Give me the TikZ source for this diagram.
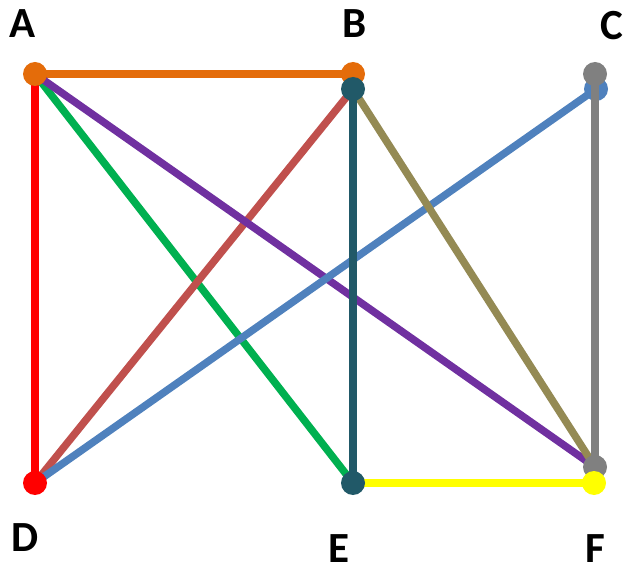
\documentclass[tikz,border=0pt]{standalone}
\usepackage{fontspec}
\setmainfont{Carlito}
\definecolor{cOrange}{HTML}{E46C0A}
\definecolor{cRed}{HTML}{FF0000}
\definecolor{cGreen}{HTML}{00B050}
\definecolor{cPurple}{HTML}{7030A0}
\definecolor{cBrick}{HTML}{C0504D}
\definecolor{cTeal}{HTML}{215968}
\definecolor{cOlive}{HTML}{948A54}
\definecolor{cBlue}{HTML}{4F81BD}
\definecolor{cGray}{HTML}{808080}
\definecolor{cYellow}{HTML}{FFFF00}
\begin{document}
\begin{tikzpicture}[x=1pt,y=-1pt,
  ln/.style={line width=7.5pt},
  dot/.style={circle,inner sep=0pt,minimum size=24pt},
  lbl/.style={font=\fontsize{43}{43}\selectfont\bfseries,inner sep=0pt}]
\useasboundingbox (0,0) rectangle (627,572);
% vertex positions
\coordinate (A) at (35,74);
\coordinate (B1) at (353,74);
\coordinate (B2) at (353,89);
\coordinate (C1) at (595,74);
\coordinate (C2) at (596,89);
\coordinate (D) at (35,483);
\coordinate (E) at (353,483);
\coordinate (F1) at (595,467);
\coordinate (F2) at (594,483);
% edges
\draw[ln,cRed] (A) -- (D);
\draw[ln,cOrange] (A) -- (B1);
\draw[ln,cGreen] (A) -- (E);
\draw[ln,cBrick] (B2) -- (D);
\draw[ln,cPurple] (A) -- (F1);
\draw[ln,cBlue] (C2) -- (D);
\draw[ln,cOlive] (B2) -- (F1);
\draw[ln,cTeal] (B2) -- (E);
\node[dot,fill=cBlue] (dC2) at (C2) {};
\draw[ln,cGray] (C1) -- (F1);
\draw[ln,cYellow] (E) -- (F2);
% dots
\node[dot,fill=cOrange] (dA) at (A) {};
\node[dot,fill=cOrange] (dB1) at (B1) {};
\node[dot,fill=cTeal] (dB2) at (B2) {};
\node[dot,fill=cGray] (dC1) at (C1) {};
\node[dot,fill=cRed] (dD) at (D) {};
\node[dot,fill=cTeal] (dE) at (E) {};
\node[dot,fill=cGray] (dF1) at (F1) {};
\node[dot,fill=cYellow] (dF2) at (F2) {};
% labels
\node[lbl] (lA) at (23,24) {A};
\node[lbl] (lB) at (355,24) {B};
\node[lbl] (lC) at (612,26) {C};
\node[lbl] (lD) at (25,538) {D};
\node[lbl] (lE) at (339,549) {E};
\node[lbl] (lF) at (595,549) {F};
\end{tikzpicture}
\end{document}
